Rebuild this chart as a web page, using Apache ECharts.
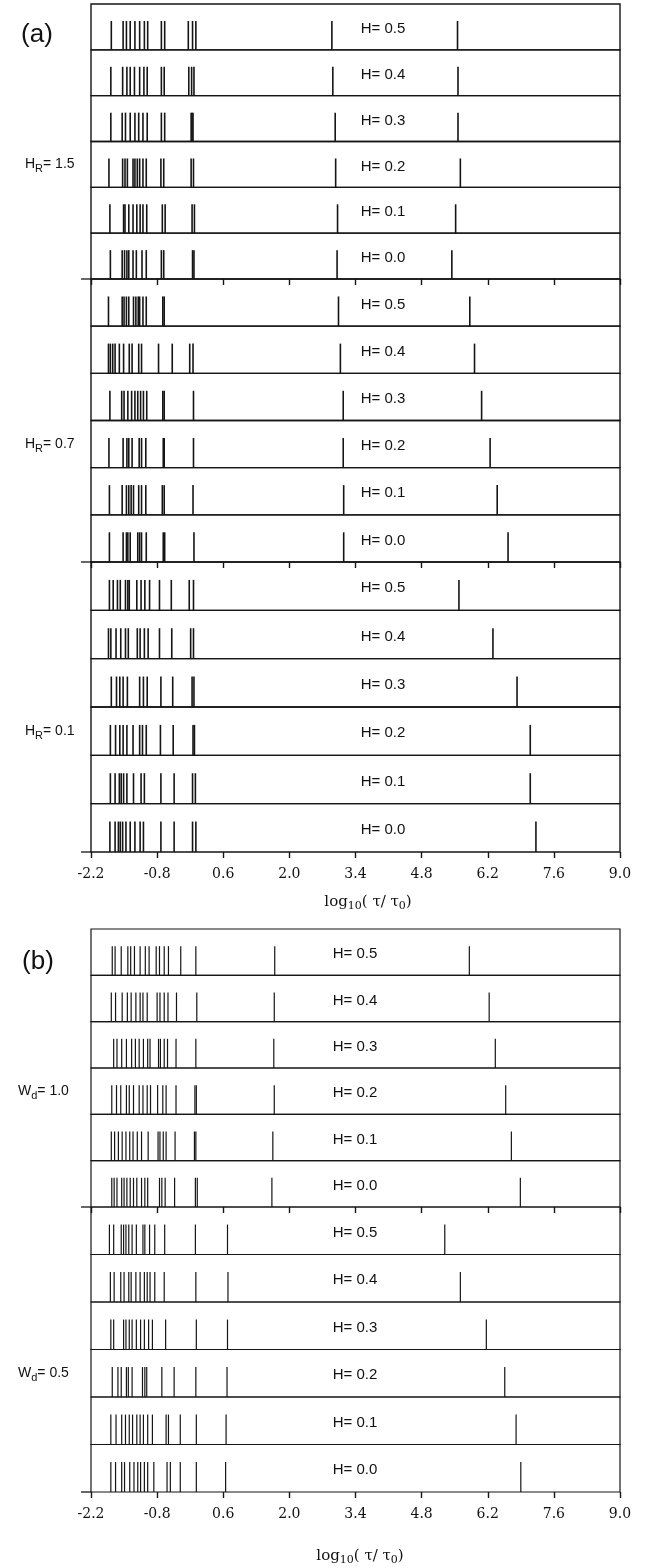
<!DOCTYPE html>
<html>
<head>
<meta charset="utf-8">
<script src="https://cdn.jsdelivr.net/npm/echarts@6/dist/echarts.min.js"></script>
<style>
html, body { margin: 0; background: #fff; }
#chart { width: 654px; height: 1568px; }
</style>
</head>
<body>
<div id="chart"></div>
<script>
// axis: log10(tau/tau0)
const X_MIN = -2.2
const X_MAX = 9.0
const X_STEP = 1.4
const tickLabels = ['-2.2', '-0.8', '0.6', '2.0', '3.4', '4.8', '6.2', '7.6', '9.0']
const hLabels = ['H= 0.5', 'H= 0.4', 'H= 0.3', 'H= 0.2', 'H= 0.1', 'H= 0.0']

// spike positions, one array per H row (H = 0.5 ... 0.0)
const spikesHR15 = [
    [-1.77, -1.52, -1.45, -1.37, -1.27, -1.17, -1.07, -1.00, -0.71, -0.64, -0.14, -0.05, 0.02, 2.90, 5.56],
    [-1.78, -1.53, -1.44, -1.37, -1.28, -1.17, -1.08, -1.01, -0.71, -0.65, -0.13, -0.07, -0.02, 2.92, 5.57],
    [-1.78, -1.54, -1.47, -1.37, -1.27, -1.19, -1.10, -1.01, -0.71, -0.64, -0.08, -0.06, -0.04, 2.97, 5.57],
    [-1.82, -1.53, -1.48, -1.43, -1.31, -1.27, -1.22, -1.17, -1.10, -1.03, -0.72, -0.66, -0.08, -0.03, 2.98, 5.62],
    [-1.80, -1.51, -1.48, -1.40, -1.31, -1.23, -1.16, -1.10, -1.02, -0.69, -0.63, -0.06, -0.01, 3.02, 5.52],
    [-1.79, -1.54, -1.49, -1.44, -1.40, -1.31, -1.24, -1.12, -1.03, -0.71, -0.66, -0.05, -0.02, 3.01, 5.44]
]
const spikesHR07 = [
    [-1.83, -1.54, -1.50, -1.45, -1.40, -1.30, -1.25, -1.20, -1.17, -1.10, -1.03, -0.68, -0.65, 3.04, 5.82],
    [-1.83, -1.79, -1.74, -1.69, -1.60, -1.51, -1.39, -1.33, -1.19, -1.13, -0.77, -0.48, -0.11, -0.04, 3.08, 5.92],
    [-1.80, -1.55, -1.50, -1.42, -1.34, -1.27, -1.21, -1.15, -1.09, -1.02, -0.68, -0.65, -0.03, 3.14, 6.07],
    [-1.82, -1.52, -1.44, -1.40, -1.33, -1.18, -1.13, -1.04, -0.67, -0.65, -0.03, 3.14, 6.25],
    [-1.81, -1.54, -1.45, -1.40, -1.35, -1.30, -1.19, -1.13, -1.04, -0.69, -0.65, -0.04, 3.15, 6.40],
    [-1.81, -1.52, -1.45, -1.42, -1.37, -1.21, -1.17, -1.13, -1.03, -0.67, -0.64, -0.02, 3.15, 6.63]
]
const spikesHR01 = [
    [-1.81, -1.73, -1.64, -1.58, -1.47, -1.42, -1.39, -1.23, -1.14, -1.06, -0.96, -0.75, -0.50, -0.12, -0.03, 5.59],
    [-1.83, -1.78, -1.67, -1.57, -1.47, -1.41, -1.22, -1.16, -1.07, -0.99, -0.75, -0.49, -0.09, -0.03, 6.31],
    [-1.77, -1.66, -1.59, -1.52, -1.43, -1.17, -1.09, -1.01, -0.72, -0.47, -0.06, -0.02, 6.82],
    [-1.79, -1.68, -1.59, -1.52, -1.44, -1.31, -1.17, -1.11, -1.03, -0.73, -0.46, -0.04, -0.01, 7.10],
    [-1.79, -1.69, -1.60, -1.56, -1.51, -1.44, -1.30, -1.14, -1.07, -0.72, -0.44, -0.05, 0.01, 7.10],
    [-1.80, -1.69, -1.62, -1.58, -1.53, -1.46, -1.37, -1.27, -1.16, -1.09, -0.72, -0.44, -0.05, 0.02, 7.22]
]
const spikesWd10 = [
    [-1.75, -1.69, -1.56, -1.42, -1.36, -1.28, -1.16, -1.05, -0.97, -0.82, -0.75, -0.65, -0.56, -0.30, 0.02, 1.69, 5.81],
    [-1.77, -1.68, -1.54, -1.43, -1.35, -1.25, -1.16, -1.10, -1.01, -0.80, -0.74, -0.65, -0.57, -0.39, 0.04, 1.68, 6.23],
    [-1.72, -1.65, -1.55, -1.45, -1.34, -1.26, -1.18, -1.09, -1.00, -0.95, -0.77, -0.73, -0.65, -0.58, -0.40, 0.02, 1.67, 6.36],
    [-1.76, -1.66, -1.57, -1.45, -1.39, -1.30, -1.18, -1.10, -1.01, -0.94, -0.79, -0.68, -0.61, -0.40, 0.00, 0.03, 1.68, 6.58],
    [-1.77, -1.70, -1.62, -1.54, -1.46, -1.38, -1.31, -1.22, -1.13, -0.99, -0.78, -0.74, -0.67, -0.61, -0.42, -0.01, 0.02, 1.65, 6.70],
    [-1.76, -1.71, -1.65, -1.55, -1.50, -1.44, -1.37, -1.30, -1.23, -1.13, -1.06, -1.00, -0.75, -0.70, -0.63, -0.43, 0.01, 0.05, 1.63, 6.89]
]
const spikesWd05 = [
    [-1.81, -1.72, -1.56, -1.51, -1.46, -1.40, -1.33, -1.24, -1.10, -1.06, -0.96, -0.85, -0.64, 0.01, 0.69, 5.29],
    [-1.79, -1.71, -1.57, -1.50, -1.40, -1.35, -1.25, -1.16, -1.07, -1.01, -0.95, -0.85, -0.65, 0.02, 0.70, 5.62],
    [-1.78, -1.72, -1.51, -1.46, -1.39, -1.33, -1.24, -1.15, -1.07, -0.98, -0.90, -0.62, 0.03, 0.69, 6.17],
    [-1.75, -1.63, -1.56, -1.45, -1.41, -1.33, -1.11, -1.06, -1.02, -0.70, -0.44, 0.02, 0.68, 6.56],
    [-1.78, -1.67, -1.55, -1.47, -1.39, -1.32, -1.23, -1.16, -1.09, -1.00, -0.90, -0.61, -0.56, -0.31, 0.03, 0.66, 6.80],
    [-1.78, -1.68, -1.55, -1.49, -1.38, -1.29, -1.21, -1.15, -1.07, -1.00, -0.87, -0.59, -0.52, -0.31, 0.03, 0.65, 6.90]
]

// group layout: [top, bottom] in px, label, which panel
const groups = [
    { rows: spikesHR15, sym: 'H', sub: 'R', val: '1.5', top: 4, bottom: 279, panel: 'a', last: false },
    { rows: spikesHR07, sym: 'H', sub: 'R', val: '0.7', top: 279, bottom: 562, panel: 'a', last: false },
    { rows: spikesHR01, sym: 'H', sub: 'R', val: '0.1', top: 562, bottom: 852, panel: 'a', last: true },
    { rows: spikesWd10, sym: 'W', sub: 'd', val: '1.0', top: 929, bottom: 1207, panel: 'b', last: false },
    { rows: spikesWd05, sym: 'W', sub: 'd', val: '0.5', top: 1207, bottom: 1492, panel: 'b', last: true }
]

const LEFT = 91
const WIDTH = 529
const SPIKE_TOP = 0.63
const INK = '#151515'

const grids = []
const xAxes = []
const yAxes = []
const series = []
const graphics = []

function spikeRenderer(lw) {
    return function (params, api) {
        const x = api.value(0)
        const p0 = api.coord([x, 0])
        const p1 = api.coord([x, SPIKE_TOP])
        return {
            type: 'line',
            shape: { x1: p0[0], y1: p0[1], x2: p1[0], y2: p1[1] },
            style: { stroke: INK, lineWidth: lw }
        }
    }
}

groups.forEach(function (g) {
    const rowH = (g.bottom - g.top) / g.rows.length
    const isA = g.panel === 'a'
    g.rows.forEach(function (vals, r) {
        const idx = grids.length
        const top = g.top + r * rowH
        const isBottom = r === g.rows.length - 1
        grids.push({
            left: LEFT, width: WIDTH, top: top, height: rowH,
            show: true, borderColor: INK, borderWidth: isA ? 1.4 : 1.2,
            backgroundColor: 'transparent'
        })
        xAxes.push({
            gridIndex: idx, type: 'value',
            // axis runs in units shifted by X_MIN so ticks start at min
            min: 0, max: X_MAX - X_MIN, interval: X_STEP,
            axisLine: { show: false },
            splitLine: { show: false },
            axisTick: {
                show: isBottom, length: 6, inside: false,
                lineStyle: { color: INK, width: 1.4 }
            },
            axisLabel: {
                show: isBottom && g.last,
                showMinLabel: true, showMaxLabel: true,
                margin: 15,
                color: '#111',
                fontFamily: 'DejaVu Serif',
                fontSize: 14,
                formatter: function (v) {
                    const i = Math.round(v / X_STEP)
                    return tickLabels[i]
                }
            }
        })
        yAxes.push({ gridIndex: idx, type: 'value', min: 0, max: 1, show: false })
        series.push({
            type: 'custom',
            xAxisIndex: idx, yAxisIndex: idx,
            renderItem: spikeRenderer(isA ? 1.6 : 1.2),
            data: vals.map(function (v) { return [v - X_MIN] }),
            silent: true
        })
        graphics.push({
            type: 'text',
            style: {
                text: hLabels[r],
                x: isA ? 383 : 355,
                y: top + rowH * 0.5 + 2,
                fill: '#111',
                font: '15px "Liberation Sans"',
                textAlign: 'center',
                textVerticalAlign: 'middle'
            }
        })
    })

    // group label e.g. H_R = 1.5
    const midRow = g.top + rowH * 3.5
    graphics.push({
        type: 'text',
        style: {
            text: '{m|' + g.sym + '}{s|' + g.sub + '}{m|= ' + g.val + '}',
            x: isA ? 25 : 18,
            y: midRow,
            fill: '#111',
            textVerticalAlign: 'middle',
            rich: {
                m: { fontSize: 14, fontFamily: 'Liberation Sans', fill: '#111', lineHeight: 20 },
                s: { fontSize: 11, fontFamily: 'Liberation Sans', fill: '#111', lineHeight: 20, padding: [9, 0, 0, 0] }
            }
        }
    })

    // boundary line sticks out a bit left of the frame
    graphics.push({
        type: 'line',
        shape: { x1: LEFT - 10, y1: g.bottom, x2: LEFT, y2: g.bottom },
        style: { stroke: INK, lineWidth: 1.3 }
    })
})

// panel letters
graphics.push({
    type: 'text',
    style: { text: '(a)', x: 37, y: 35, font: '26px "Liberation Sans"', fill: '#111', textAlign: 'center', textVerticalAlign: 'middle' }
})
graphics.push({
    type: 'text',
    style: { text: '(b)', x: 38, y: 962, font: '26px "Liberation Sans"', fill: '#111', textAlign: 'center', textVerticalAlign: 'middle' }
})

// axis titles
const axisTitleRich = {
    m: { fontSize: 15, fontFamily: 'DejaVu Serif', fill: '#111', lineHeight: 20 },
    s: { fontSize: 11, fontFamily: 'DejaVu Serif', fill: '#111', lineHeight: 20, padding: [9, 0, 0, 0] }
}
;[[368, 902], [360, 1556]].forEach(function (p) {
    graphics.push({
        type: 'text',
        style: {
            text: '{m|log}{s|10}{m|( τ/ τ}{s|0}{m|)}',
            x: p[0], y: p[1],
            textAlign: 'center', textVerticalAlign: 'middle',
            rich: axisTitleRich
        }
    })
})

const chart = echarts.init(document.getElementById('chart'), null, { renderer: 'canvas' })
chart.setOption({
    backgroundColor: '#fff',
    animation: false,
    grid: grids,
    xAxis: xAxes,
    yAxis: yAxes,
    series: series,
    graphic: graphics
})
window.addEventListener('resize', function () { chart.resize() })
</script>
</body>
</html>
